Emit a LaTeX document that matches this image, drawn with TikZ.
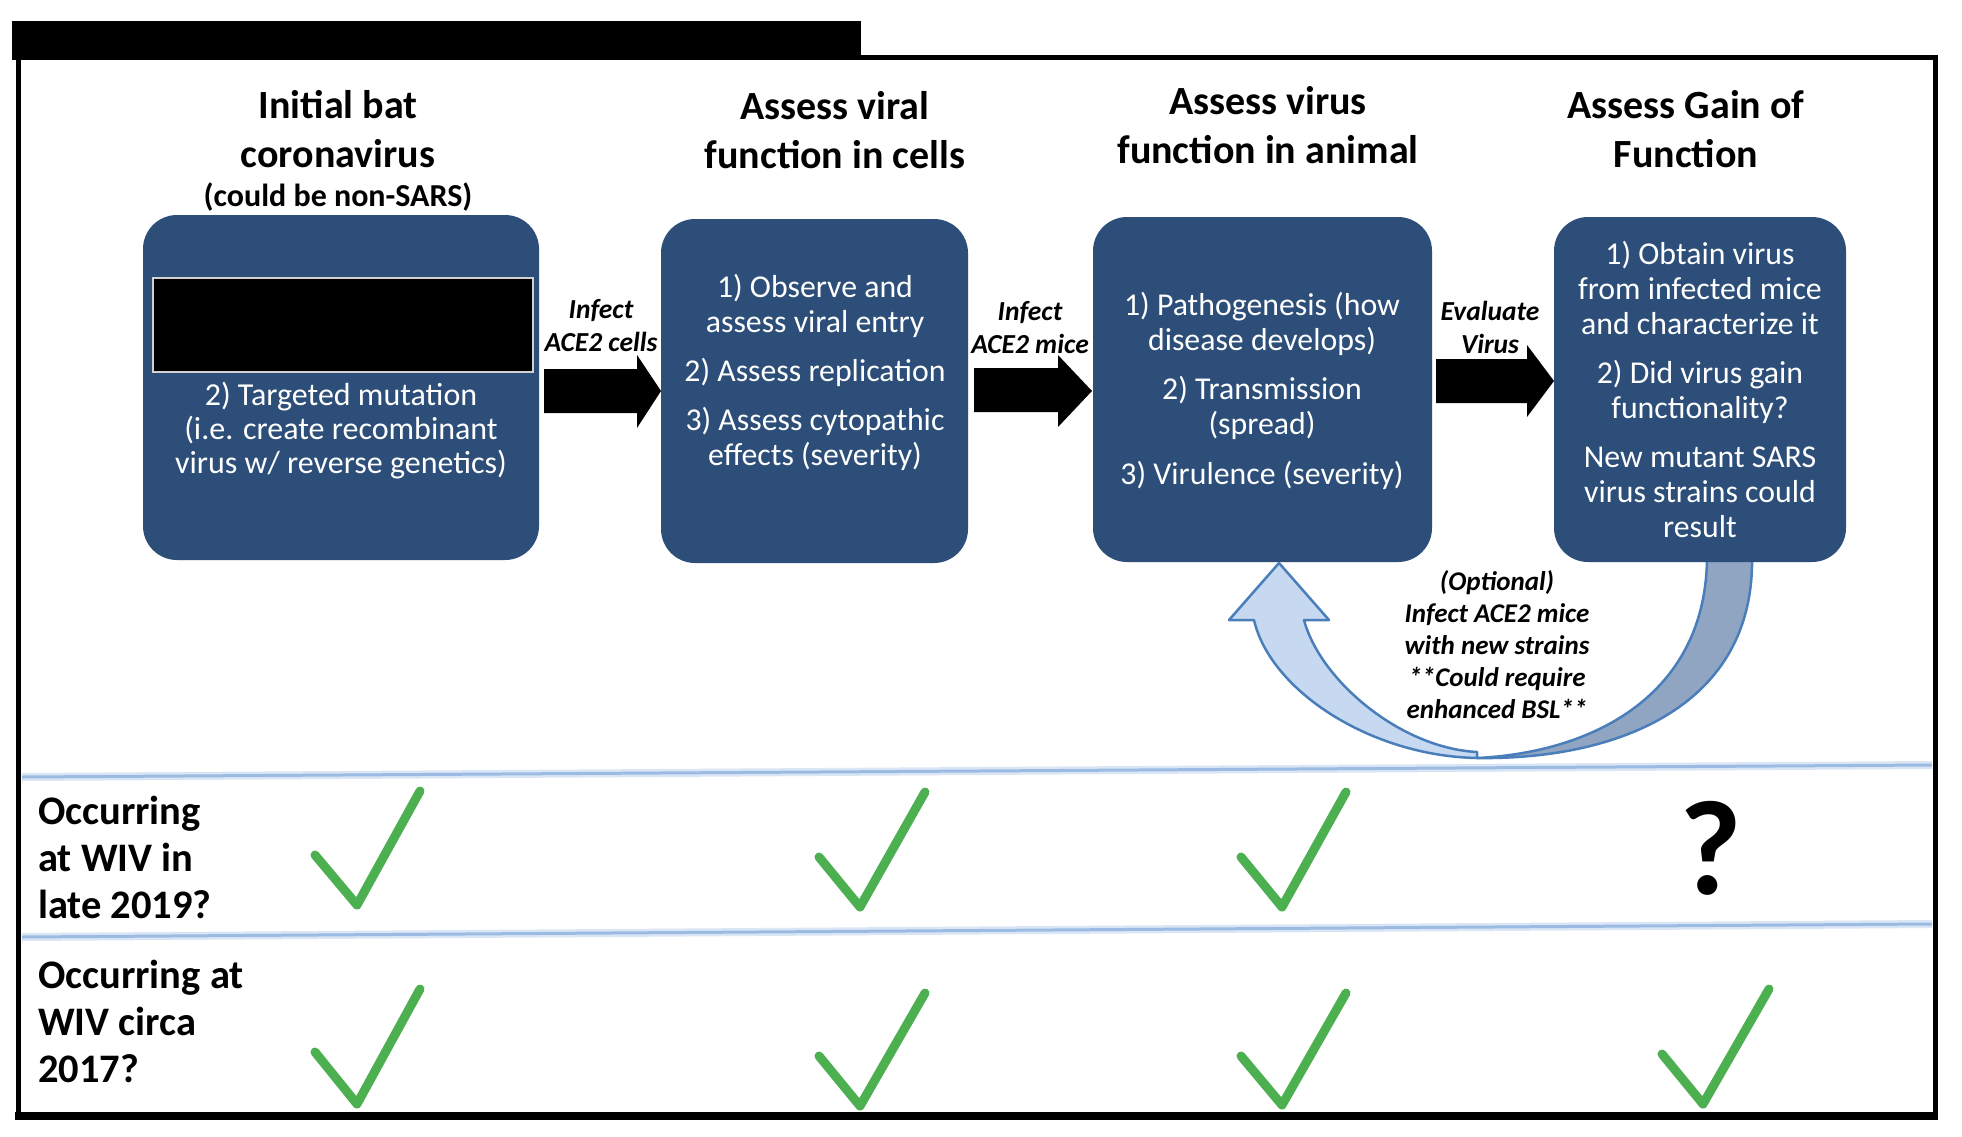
\documentclass[tikz,border=0pt]{standalone}
\usepackage{fontspec}
\setmainfont{Carlito}
\usetikzlibrary{calc}
\definecolor{boxblue}{RGB}{44,78,120}
\definecolor{lightband}{RGB}{198,217,241}
\definecolor{darkband}{RGB}{143,165,194}
\definecolor{bandline}{RGB}{74,126,187}
\definecolor{divider}{RGB}{155,187,226}
\definecolor{dividerhalo}{RGB}{218,230,245}
\definecolor{checkgreen}{RGB}{76,176,80}
\begin{document}
\begin{tikzpicture}[x=1pt,y=-1pt,
  stepbox/.style={draw=none, fill=boxblue, rounded corners=34pt, inner sep=0pt, outer sep=0pt},
  boxtext/.style={text=white, align=center, font=\fontsize{31.8}{35}\selectfont, inner sep=0pt},
  hdr/.style={align=center, font=\bfseries\fontsize{40}{49}\selectfont, inner sep=0pt},
  arrlabel/.style={align=center, font=\bfseries\itshape\fontsize{27.5}{33}\selectfont, inner sep=0pt},
  rowlabel/.style={align=left, anchor=west, font=\bfseries\fontsize{40.5}{47}\selectfont, inner sep=0pt},
  checkmark/.style={draw=checkgreen, line width=9pt, line cap=round, line join=round},
  blockarrow/.style={fill=black},
  band/.style={draw=bandline, line width=2.5pt, line join=round},
  divline/.style={draw=divider, line width=3pt},
]
\useasboundingbox (0,0) rectangle (1962,1136);
\fill[white] (0,0) rectangle (1962,1136);

% frame
\draw[line width=5pt] (18,57) rectangle (1935,1116);
\draw[line width=8pt] (15,1116) -- (1938,1116);
\fill[black] (12,21) rectangle (861,60);

% divider lines
\draw[dividerhalo, line width=8pt] (22,777) -- (1932,765);
\draw[divline] (22,777) -- (1932,765);
\draw[dividerhalo, line width=8pt] (22,937) -- (1932,924);
\draw[divline] (22,937) -- (1932,924);

% headers
\node[hdr] (h1) at (338,129.5) {Initial bat\\coronavirus};
\node[font=\bfseries\fontsize{32}{35}\selectfont, inner sep=0pt] (h1s) at (338,197) {(could be non-SARS)};
\node[hdr] (h2) at (835,130) {Assess viral\\function in cells};
\node[hdr] (h3) at (1268,125) {Assess virus\\function in animal};
\node[hdr] (h4) at (1686,129) {Assess Gain of\\Function};

% back part of curved arrow
\filldraw[band, fill=darkband] (1707,556) -- (1752,556) .. controls (1755,705) and (1620,760) .. (1477,758) .. controls (1600,752) and (1707,690) .. (1707,556) -- cycle;

% boxes
\node[stepbox, minimum width=396pt, minimum height=345pt] (b1) at (341,387.5) {};
\node[stepbox, minimum width=307pt, minimum height=344pt] (b2) at (814.5,391) {};
\node[stepbox, minimum width=339pt, minimum height=345pt] (b3) at (1262.5,389.5) {};
\node[stepbox, minimum width=292pt, minimum height=345pt] (b4) at (1700,389.5) {};

\filldraw[fill=black, draw=gray!35, line width=1.5pt] (153,278) rectangle (533,372);

\node[boxtext, font=\fontsize{32}{34}\selectfont] (t1) at (341,431) {2) Targeted mutation\\(i.e. create recombinant\\virus w/ reverse genetics)};
\node[boxtext] (t2) at (815,372.5) {1) Observe and\\assess viral entry\\[14pt]2) Assess replication\\[14pt]3) Assess cytopathic\\effects (severity)};
\node[boxtext] (t3) at (1262,391) {1) Pathogenesis (how\\disease develops)\\[14pt]2) Transmission\\(spread)\\[15pt]3) Virulence (severity)};
\node[boxtext] (t4) at (1700,389) {1) Obtain virus\\from infected mice\\and characterize it\\[14pt]2) Did virus gain\\functionality?\\[14pt]New mutant SARS\\virus strains could\\result};

% block arrows
\fill[blockarrow] (544,369) -- (637,369) -- (637,355) -- (661,391) -- (637,428) -- (637,413) -- (544,413) -- cycle;
\fill[blockarrow] (974,368) -- (1058,368) -- (1058,355) -- (1092,391) -- (1058,427) -- (1058,412) -- (974,412) -- cycle;
\fill[blockarrow] (1436,359) -- (1527,359) -- (1527,345) -- (1554,381) -- (1527,417) -- (1527,403) -- (1436,403) -- cycle;

\node[arrlabel] (l1) at (601,326) {Infect\\ACE2 cells};
\node[arrlabel] (l2) at (1030,328) {Infect\\ACE2 mice};
\node[arrlabel] (l3) at (1490,327) {Evaluate\\Virus};

% front part of curved arrow
\filldraw[band, fill=lightband] (1477,758) .. controls (1370,756) and (1270,690) .. (1254,620) -- (1229,620) -- (1279,563) -- (1329,620) -- (1304,620) .. controls (1320,680) and (1400,748) .. (1477,752) -- cycle;

\node[arrlabel, font=\bfseries\itshape\fontsize{27}{32}\selectfont] (opt) at (1497,645) {(Optional)\\Infect ACE2 mice\\with new strains\\**Could require\\enhanced BSL**};

% row labels
\node[rowlabel] (r1) at (38,857) {Occurring\\at WIV in\\late 2019?};
\node[rowlabel] (r2) at (38,1021) {Occurring at\\WIV circa\\2017?};

% checks row 1
\draw[checkmark] (315,855) -- (357,905) -- (420,791);
\draw[checkmark] (819,857) -- (860,907) -- (925,792);
\draw[checkmark] (1241,857) -- (1282,907) -- (1346,792);
\node[font=\bfseries\fontsize{135}{135}\selectfont, inner sep=0pt] (q) at (1711,848) {?};

% checks row 2
\draw[checkmark] (315,1052) -- (357,1104) -- (420,989);
\draw[checkmark] (819,1056) -- (860,1106) -- (925,993);
\draw[checkmark] (1241,1056) -- (1282,1105) -- (1346,993);
\draw[checkmark] (1662,1054) -- (1703,1104) -- (1769,989);
\end{tikzpicture}
\end{document}
